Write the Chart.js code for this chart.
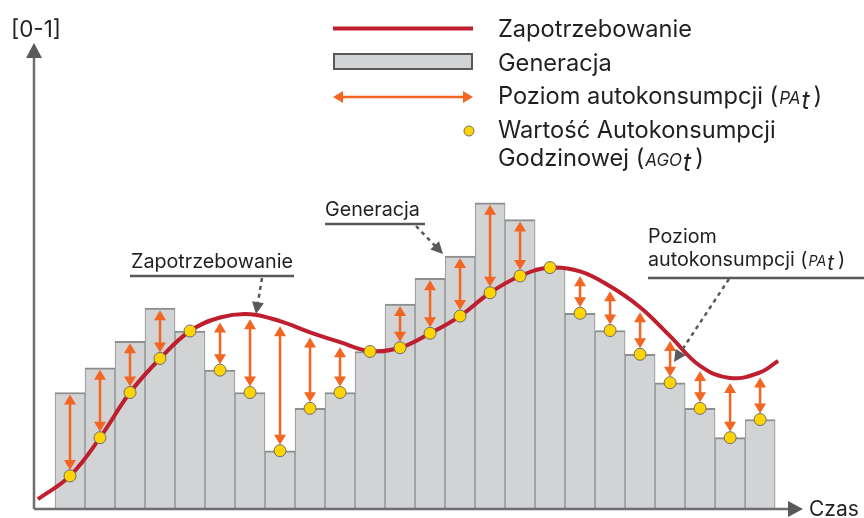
<!DOCTYPE html>
<html>
<head>
<meta charset="utf-8">
<script src="https://cdn.jsdelivr.net/npm/chart.js@4.4.1/dist/chart.umd.min.js"></script>
<style>
  html, body { margin: 0; padding: 0; background: #fff; }
</style>
</head>
<body>
<canvas id="chart" width="864" height="518"></canvas>
<script>
// Generacja - height of each hourly bar [0-1]
const generacja = [0.250, 0.303, 0.360, 0.431, 0.382, 0.298, 0.250, 0.125, 0.216, 0.250, 0.338, 0.440,
                   0.495, 0.543, 0.657, 0.621, 0.518, 0.420, 0.383, 0.332, 0.271, 0.216, 0.153, 0.192];
// Zapotrzebowanie - demand curve at the middle of each hour
const zapotrzebowanie = [0.071, 0.153, 0.250, 0.323, 0.382, 0.411, 0.418, 0.403, 0.379, 0.358, 0.339, 0.346,
                         0.377, 0.414, 0.464, 0.500, 0.518, 0.510, 0.478, 0.433, 0.371, 0.307, 0.281, 0.293];
// curve starts a little before the first hour and ends a little after the last one
const zapotrzebowaniePoczatek = { x: -0.57, y: 0.021 };
const zapotrzebowanieKoniec = { x: 24.1, y: 0.318 };
// AGO_t - hourly self-consumption value (yellow dots)
const ago = [0.071, 0.153, 0.250, 0.323, 0.382, 0.298, 0.250, 0.125, 0.216, 0.250, 0.338, 0.346,
             0.377, 0.414, 0.464, 0.500, 0.518, 0.420, 0.383, 0.332, 0.271, 0.216, 0.153, 0.192];

const FONT = "Inter, 'Open Sans', sans-serif";
const GREY = '#58595b';
const ORANGE = '#f26522';
const RED = '#be1e2d';

const hourX = (i) => i + 0.5;

var barData = generacja.map((v, i) => ({ x: hourX(i), y: v }));
var lineData = [zapotrzebowaniePoczatek]
    .concat(zapotrzebowanie.map((v, i) => ({ x: hourX(i), y: v })))
    .concat([zapotrzebowanieKoniec]);
var dotData = ago.map((v, i) => ({ x: hourX(i), y: v }));

function fitFont(ctx, text, width, style) {
    ctx.font = style + ' 20px ' + FONT;
    var size = 20 * width / ctx.measureText(text).width;
    return size;
}

function arrowHead(ctx, x, y, dx, dy, len, half, color) {
    // tip at (x,y), pointing along (dx,dy)
    var n = Math.hypot(dx, dy);
    var ux = dx / n, uy = dy / n;
    ctx.fillStyle = color;
    ctx.beginPath();
    ctx.moveTo(x, y);
    ctx.lineTo(x - ux * len - uy * half, y - uy * len + ux * half);
    ctx.lineTo(x - ux * len + uy * half, y - uy * len - ux * half);
    ctx.closePath();
    ctx.fill();
}

function doubleArrow(ctx, x1, y1, x2, y2) {
    var len = 10, half = 6;
    var n = Math.hypot(x2 - x1, y2 - y1);
    var ux = (x2 - x1) / n, uy = (y2 - y1) / n;
    ctx.strokeStyle = ORANGE;
    ctx.lineWidth = 2.5;
    ctx.beginPath();
    ctx.moveTo(x1 + ux * (len - 1), y1 + uy * (len - 1));
    ctx.lineTo(x2 - ux * (len - 1), y2 - uy * (len - 1));
    ctx.stroke();
    arrowHead(ctx, x1, y1, -ux, -uy, len, half, ORANGE);
    arrowHead(ctx, x2, y2, ux, uy, len, half, ORANGE);
}

function dashedArrow(ctx, x1, y1, x2, y2) {
    var n = Math.hypot(x2 - x1, y2 - y1);
    var ux = (x2 - x1) / n, uy = (y2 - y1) / n;
    ctx.save();
    ctx.strokeStyle = GREY;
    ctx.lineWidth = 2.5;
    ctx.setLineDash([4, 4]);
    ctx.beginPath();
    ctx.moveTo(x1, y1);
    ctx.lineTo(x2 - ux * 10, y2 - uy * 10);
    ctx.stroke();
    ctx.restore();
    arrowHead(ctx, x2, y2, ux, uy, 12, 6, GREY);
}

function underline(ctx, x1, x2, y) {
    ctx.strokeStyle = GREY;
    ctx.lineWidth = 2.5;
    ctx.beginPath();
    ctx.moveTo(x1, y);
    ctx.lineTo(x2, y);
    ctx.stroke();
}

// text with the italic (PA_t) / (AGO_t) symbol after it
function textWithSymbol(ctx, x, y, before, sym, size) {
    ctx.fillStyle = '#231f20';
    ctx.textBaseline = 'alphabetic';
    ctx.textAlign = 'left';
    ctx.font = size + 'px ' + FONT;
    ctx.fillText(before + '(', x, y);
    x += ctx.measureText(before + '(').width + 1;
    ctx.font = 'italic ' + (size * 0.72) + 'px ' + FONT;
    ctx.fillText(sym, x, y);
    x += ctx.measureText(sym).width + 1;
    ctx.font = 'italic ' + (size * 1.05) + 'px ' + FONT;
    ctx.fillText('t', x, y + size * 0.22);
    x += ctx.measureText('t').width + 4;
    ctx.font = size + 'px ' + FONT;
    ctx.fillText(')', x, y);
}

const decorPlugin = {
    id: 'decor',
    afterDatasetDraw(chart, args) {
        if (args.index !== 0) return;
        // orange double arrows between generation and demand
        var ctx = chart.ctx;
        var xs = chart.scales.x, ys = chart.scales.y;
        ctx.save();
        generacja.forEach((g, i) => {
            var d = zapotrzebowanie[i];
            var top = Math.max(g, d);
            var yTop = ys.getPixelForValue(top) + (g >= d ? 2 : 5);
            var yDot = ys.getPixelForValue(ago[i]) - 6;
            if (yDot - yTop < 12) return;
            var x = xs.getPixelForValue(hourX(i));
            doubleArrow(ctx, x, yTop, x, yDot);
        });
        ctx.restore();
    },
    afterDraw(chart) {
        var ctx = chart.ctx;
        var a = chart.chartArea;
        ctx.save();

        // axes with arrows
        ctx.strokeStyle = '#6d6e71';
        ctx.lineWidth = 2.5;
        ctx.beginPath();
        ctx.moveTo(a.left, a.bottom);
        ctx.lineTo(a.left, a.top + 12);
        ctx.moveTo(a.left, a.bottom);
        ctx.lineTo(a.right - 12, a.bottom);
        ctx.stroke();
        arrowHead(ctx, a.left, a.top, 0, -1, 15, 8, '#58595b');
        arrowHead(ctx, a.right, a.bottom, 1, 0, 15, 8, '#58595b');

        ctx.fillStyle = '#231f20';
        ctx.textAlign = 'left';
        ctx.textBaseline = 'alphabetic';
        ctx.font = fitFont(ctx, '[0-1]', 50, '') + 'px ' + FONT;
        ctx.fillText('[0-1]', 11, 37);
        ctx.font = '21px ' + FONT;
        ctx.fillText('Czas', 809, 516);

        // legend
        var lx1 = 333, lx2 = 473, tx = 498;
        ctx.strokeStyle = RED;
        ctx.lineWidth = 4;
        ctx.beginPath();
        ctx.moveTo(lx1, 28.5);
        ctx.lineTo(lx2, 28.5);
        ctx.stroke();
        ctx.fillStyle = '#d1d3d4';
        ctx.fillRect(lx1 + 1, 54, lx2 - lx1 - 2, 15);
        ctx.strokeStyle = GREY;
        ctx.lineWidth = 2;
        ctx.strokeRect(lx1 + 1, 54, lx2 - lx1 - 2, 15);
        doubleArrow(ctx, lx1, 97, lx2, 97);
        ctx.fillStyle = '#ffd400';
        ctx.strokeStyle = '#6d6e71';
        ctx.lineWidth = 1;
        ctx.beginPath();
        ctx.arc(469, 131, 5, 0, Math.PI * 2);
        ctx.fill();
        ctx.stroke();

        var ls = fitFont(ctx, 'Zapotrzebowanie', 194, '');
        ctx.fillStyle = '#231f20';
        ctx.font = ls + 'px ' + FONT;
        ctx.fillText('Zapotrzebowanie', tx, 36.5);
        ctx.fillText('Generacja', tx, 70.5);
        textWithSymbol(ctx, tx, 103.5, 'Poziom autokonsumpcji ', 'PA', ls);
        ctx.fillStyle = '#231f20';
        ctx.font = ls + 'px ' + FONT;
        ctx.fillText('Wartość Autokonsumpcji', tx, 137.5);
        textWithSymbol(ctx, tx, 165.5, 'Godzinowej ', 'AGO', ls);

        // annotations
        var as = fitFont(ctx, 'Zapotrzebowanie', 162, '');
        ctx.fillStyle = '#231f20';
        ctx.font = as + 'px ' + FONT;
        ctx.fillText('Zapotrzebowanie', 131, 268);
        underline(ctx, 130, 294, 276);
        dashedArrow(ctx, 262, 278, 256, 314);

        ctx.fillStyle = '#231f20';
        ctx.font = as + 'px ' + FONT;
        ctx.fillText('Generacja', 325, 216);
        underline(ctx, 325, 425, 224);
        dashedArrow(ctx, 416, 226, 443, 254);

        ctx.fillStyle = '#231f20';
        ctx.font = as + 'px ' + FONT;
        ctx.fillText('Poziom', 648, 243);
        textWithSymbol(ctx, 648, 266, 'autokonsumpcji ', 'PA', as);
        underline(ctx, 648, 864, 278);
        dashedArrow(ctx, 729, 279, 674, 362);

        ctx.restore();
    }
};

new Chart(document.getElementById('chart'), {
    data: {
        datasets: [
            {
                type: 'bar',
                label: 'Generacja',
                data: barData,
                backgroundColor: '#d1d3d4',
                borderColor: '#8c8e90',
                borderWidth: { top: 2, left: 1, right: 1, bottom: 0 },
                barPercentage: 1,
                categoryPercentage: 1,
                grouped: false,
                order: 3
            },
            {
                type: 'line',
                label: 'Zapotrzebowanie',
                data: lineData,
                borderColor: RED,
                borderWidth: 4,
                tension: 0.4,
                pointRadius: 0,
                fill: false,
                order: 2
            },
            {
                type: 'scatter',
                label: 'Wartość Autokonsumpcji Godzinowej',
                data: dotData,
                backgroundColor: '#ffd400',
                borderColor: '#6d6e71',
                borderWidth: 1,
                pointRadius: 6,
                order: 1
            }
        ]
    },
    options: {
        responsive: false,
        animation: false,
        layout: { padding: { left: 34, top: 43, right: 61, bottom: 9 } },
        scales: {
            x: { type: 'linear', display: false, offset: false, min: -0.7, max: 24.93 },
            y: { display: false, min: 0, max: 1 }
        },
        plugins: {
            legend: { display: false },
            tooltip: { enabled: false }
        }
    },
    plugins: [decorPlugin]
});
</script>
</body>
</html>
